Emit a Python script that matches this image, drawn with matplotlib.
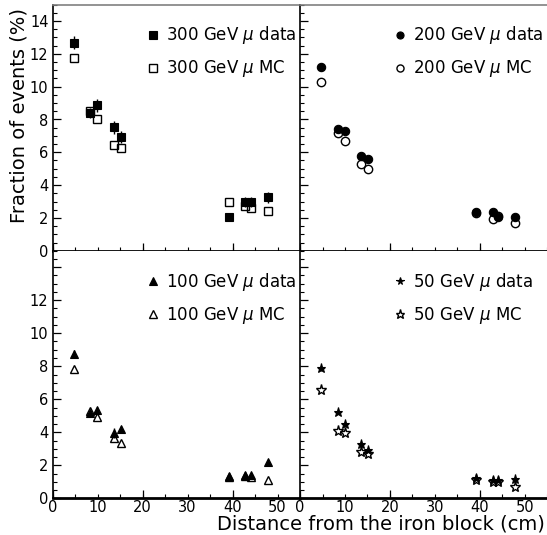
import numpy as np
import matplotlib
matplotlib.use("Agg")
import matplotlib.pyplot as plt
from matplotlib.ticker import MultipleLocator, FixedLocator, FixedFormatter

# distance from the iron block (cm), same for every beam energy
dist = [4.7, 8.4, 9.9, 13.6, 15.1, 39.1, 42.8, 44.0, 47.8]

# fraction of events (%)
frac300_data = [12.68, 8.41, 8.86, 7.52, 6.95, 2.07, 2.99, 2.99, 3.25]
frac300_mc = [11.77, 8.52, 8.03, 6.44, 6.28, 2.95, 2.72, 2.62, 2.44]
err300 = [0.4, 0.3, 0.4, 0.38, 0.37, 0.15, 0.3, 0.3, 0.33]

frac200_data = [11.22, 7.40, 7.30, 5.77, 5.57, 2.34, 2.38, 2.03, 2.03]
frac200_mc = [10.26, 7.15, 6.71, 5.28, 5.00, 2.28, 1.93, 2.13, 1.71]
err200 = [0.25, 0.2, 0.2, 0.2, 0.2, 0.1, 0.1, 0.1, 0.1]

frac100_data = [8.76, 5.16, 5.36, 3.95, 4.21, 1.36, 1.40, 1.40, 2.17]
frac100_mc = [7.83, 5.26, 4.90, 3.64, 3.38, 1.32, 1.34, 1.32, 1.11]
err100 = [0.2, 0.2, 0.2, 0.3, 0.2, 0.1, 0.1, 0.1, 0.1]

frac50_data = [7.88, 5.24, 4.53, 3.31, 2.95, 1.20, 1.12, 1.08, 1.16]
frac50_mc = [6.54, 4.10, 3.96, 2.80, 2.66, 1.12, 0.98, 0.98, 0.67]
err50 = [0.15, 0.15, 0.15, 0.15, 0.15, 0.1, 0.1, 0.1, 0.1]

energies = ['300', '200', '100', '50']

W, H = 547, 535
fig = plt.figure(figsize=(W / 100, H / 100), dpi=100)

# panel boxes in pixels: left, right, top, bottom
x0, xm, x1 = 52.7, 300.0, 547.5
y0, ym, y1 = 4.7, 250.7, 498.3

def box(l, r, t, b):
    return [l / W, 1 - b / H, (r - l) / W, (b - t) / H]

ax_tl = fig.add_axes(box(x0, xm, y0, ym))
ax_tr = fig.add_axes(box(xm, x1, y0, ym))
ax_bl = fig.add_axes(box(x0, xm, ym, y1))
ax_br = fig.add_axes(box(xm, x1, ym, y1))

panels = [
    (ax_tl, frac300_data, frac300_mc, err300, 's', 6.0, 's', 6.0),
    (ax_tr, frac200_data, frac200_mc, err200, 'o', 6.0, 'o', 6.0),
    (ax_bl, frac100_data, frac100_mc, err100, '^', 6.0, '^', 6.0),
    (ax_br, frac50_data, frac50_mc, err50, '*', 6.5, '*', 8.0),
]

for i, (ax, yd, ym_, ye, mk_d, ms_d, mk_m, ms_m) in enumerate(panels):
    top = i < 2
    left = i % 2 == 0

    mc, = ax.plot(dist, ym_, ls='none', marker=mk_m, ms=ms_m, mfc='none',
                  mec='black', mew=1.0, zorder=2)
    ax.errorbar(dist, yd, yerr=ye, fmt='none', ecolor='black', elinewidth=1.0,
                capsize=0, zorder=3)
    da, = ax.plot(dist, yd, ls='none', marker=mk_d, ms=ms_d, mfc='black',
                  mec='black', mew=0.8, zorder=4)

    ax.legend([da, mc],
              [energies[i] + r' GeV $\mu$ data', energies[i] + r' GeV $\mu$ MC'],
              loc='upper left', bbox_to_anchor=(0.38, 0.92),
              frameon=False, fontsize=12, handlelength=0.75,
              handletextpad=0.4, labelspacing=0.72, borderpad=0,
              borderaxespad=0, markerscale=0.85)

    ax.set_xlim(0, 55)
    ax.set_ylim(0, 15)

    # x ticks: labels every 10, small ticks every 5, long ticks at 0, 20, 40
    ax.xaxis.set_major_locator(MultipleLocator(10))
    ax.xaxis.set_minor_locator(MultipleLocator(5))
    ax.tick_params(axis='x', which='both', direction='in', length=3, width=0.8,
                   top=False, labelbottom=not top, labelsize=10.5, pad=1)
    sec = ax.secondary_xaxis('bottom')
    sec.set_xticks([0, 20, 40])
    sec.tick_params(direction='in', length=6, width=0.9, labelbottom=False)
    sec.spines['bottom'].set_visible(False)

    # y ticks
    ax.yaxis.set_major_locator(FixedLocator([0, 2, 4, 6, 8, 10, 12, 14]))
    ax.yaxis.set_minor_locator(MultipleLocator(0.5))
    if top:
        ylabels = ['0', '2', '4', '6', '8', '10', '12', '14']
    else:
        ylabels = ['0', '2', '4', '6', '8', '10', '12', '']
    ax.yaxis.set_major_formatter(FixedFormatter(ylabels))
    ax.tick_params(axis='y', which='major', direction='in', length=6, width=0.9,
                   right=False, labelleft=left, labelsize=10.5, pad=3)
    ax.tick_params(axis='y', which='minor', direction='in', length=3, width=0.8,
                   right=False)

    # frame
    ax.spines['bottom'].set_linewidth(2.0)
    ax.spines['left'].set_linewidth(1.2)
    ax.spines['right'].set_visible(False)
    if top:
        ax.spines['top'].set_color('#808080')
        ax.spines['top'].set_linewidth(1.2)
    else:
        ax.spines['top'].set_visible(False)

fig.text(19 / W, 1 - 8 / H, 'Fraction of events (%)', rotation=90,
         ha='center', va='top', fontsize=14)
fig.text(545 / W, 1 - 530 / H, 'Distance from the iron block (cm)',
         ha='right', va='baseline', fontsize=14)

fig.savefig('out.png', dpi=100)
